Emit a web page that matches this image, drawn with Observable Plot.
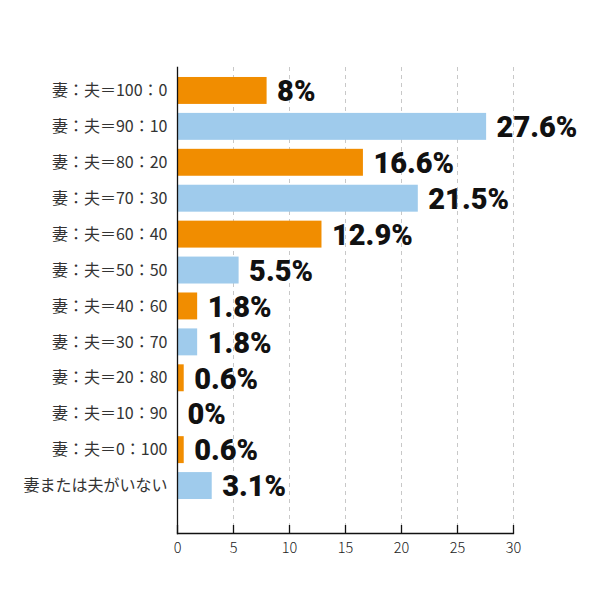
<!DOCTYPE html>
<html>
<head>
<meta charset="utf-8">
<script src="https://cdn.jsdelivr.net/npm/d3@7"></script>
<script src="https://cdn.jsdelivr.net/npm/@observablehq/plot@0.6"></script>
<style>
  html, body { margin: 0; padding: 0; background: #fff; }
</style>
</head>
<body>
<div id="chart"></div>
<script>
const categories = [
  "妻：夫＝100：0",
  "妻：夫＝90：10",
  "妻：夫＝80：20",
  "妻：夫＝70：30",
  "妻：夫＝60：40",
  "妻：夫＝50：50",
  "妻：夫＝40：60",
  "妻：夫＝30：70",
  "妻：夫＝20：80",
  "妻：夫＝10：90",
  "妻：夫＝0：100",
  "妻または夫がいない"
];
const values = [8, 27.6, 16.6, 21.5, 12.9, 5.5, 1.8, 1.8, 0.6, 0, 0.6, 3.1];
const valueLabels = ["8%", "27.6%", "16.6%", "21.5%", "12.9%", "5.5%", "1.8%", "1.8%", "0.6%", "0%", "0.6%", "3.1%"];
const xTicks = [0, 5, 10, 15, 20, 25, 30];
const gridTicks = [5, 10, 15, 20, 25, 30];
const barColors = ["#F18D00", "#9FCBEC"];

const data = categories.map((c, i) => ({
  label: c,
  value: values[i],
  text: valueLabels[i],
  color: barColors[i % 2]
}));

const chart = Plot.plot({
  width: 600,
  height: 600,
  marginTop: 67,
  marginBottom: 67,
  marginLeft: 177,
  marginRight: 87,
  insetBottom: 25,
  insetTop: 1,
  x: { domain: [0, 30] },
  y: { domain: categories, padding: 0.25, round: false },
  style: { background: "#fff" },
  marks: [
    Plot.ruleX(gridTicks, { stroke: "#c8c8c8", strokeDasharray: "4,4", strokeWidth: 1 }),
    Plot.barX(data, { x: "value", y: "label", fill: "color" }),
    Plot.text(data, {
      x: "value", y: "label", text: "text",
      textAnchor: "start", dx: 10, dy: 1,
      fontSize: 29, fontWeight: 900, fill: "#111",
      fontFamily: "Roboto, 'DejaVu Sans', sans-serif"
    }),
    Plot.ruleX(xTicks, { stroke: "#111", strokeWidth: 1.3, insetTop: 458 }),
    Plot.frame({ anchor: "bottom", stroke: "#111", strokeWidth: 1.3 }),
    Plot.frame({ anchor: "left", stroke: "#111", strokeWidth: 1.3 }),
    Plot.axisY({
      tickSize: 0, tickPadding: 10, label: null,
      fontSize: 16, fill: "#333",
      fontFamily: "'Noto Sans CJK JP', sans-serif"
    }),
    Plot.axisX({
      ticks: xTicks, tickSize: 0, tickPadding: 9, label: null,
      tickFormat: d => String(d),
      fontSize: 14.5, fill: "#222",
      fontFamily: "'Noto Sans CJK JP', sans-serif", fontWeight: 300
    })
  ]
});
document.getElementById("chart").appendChild(chart);
</script>
</body>
</html>
